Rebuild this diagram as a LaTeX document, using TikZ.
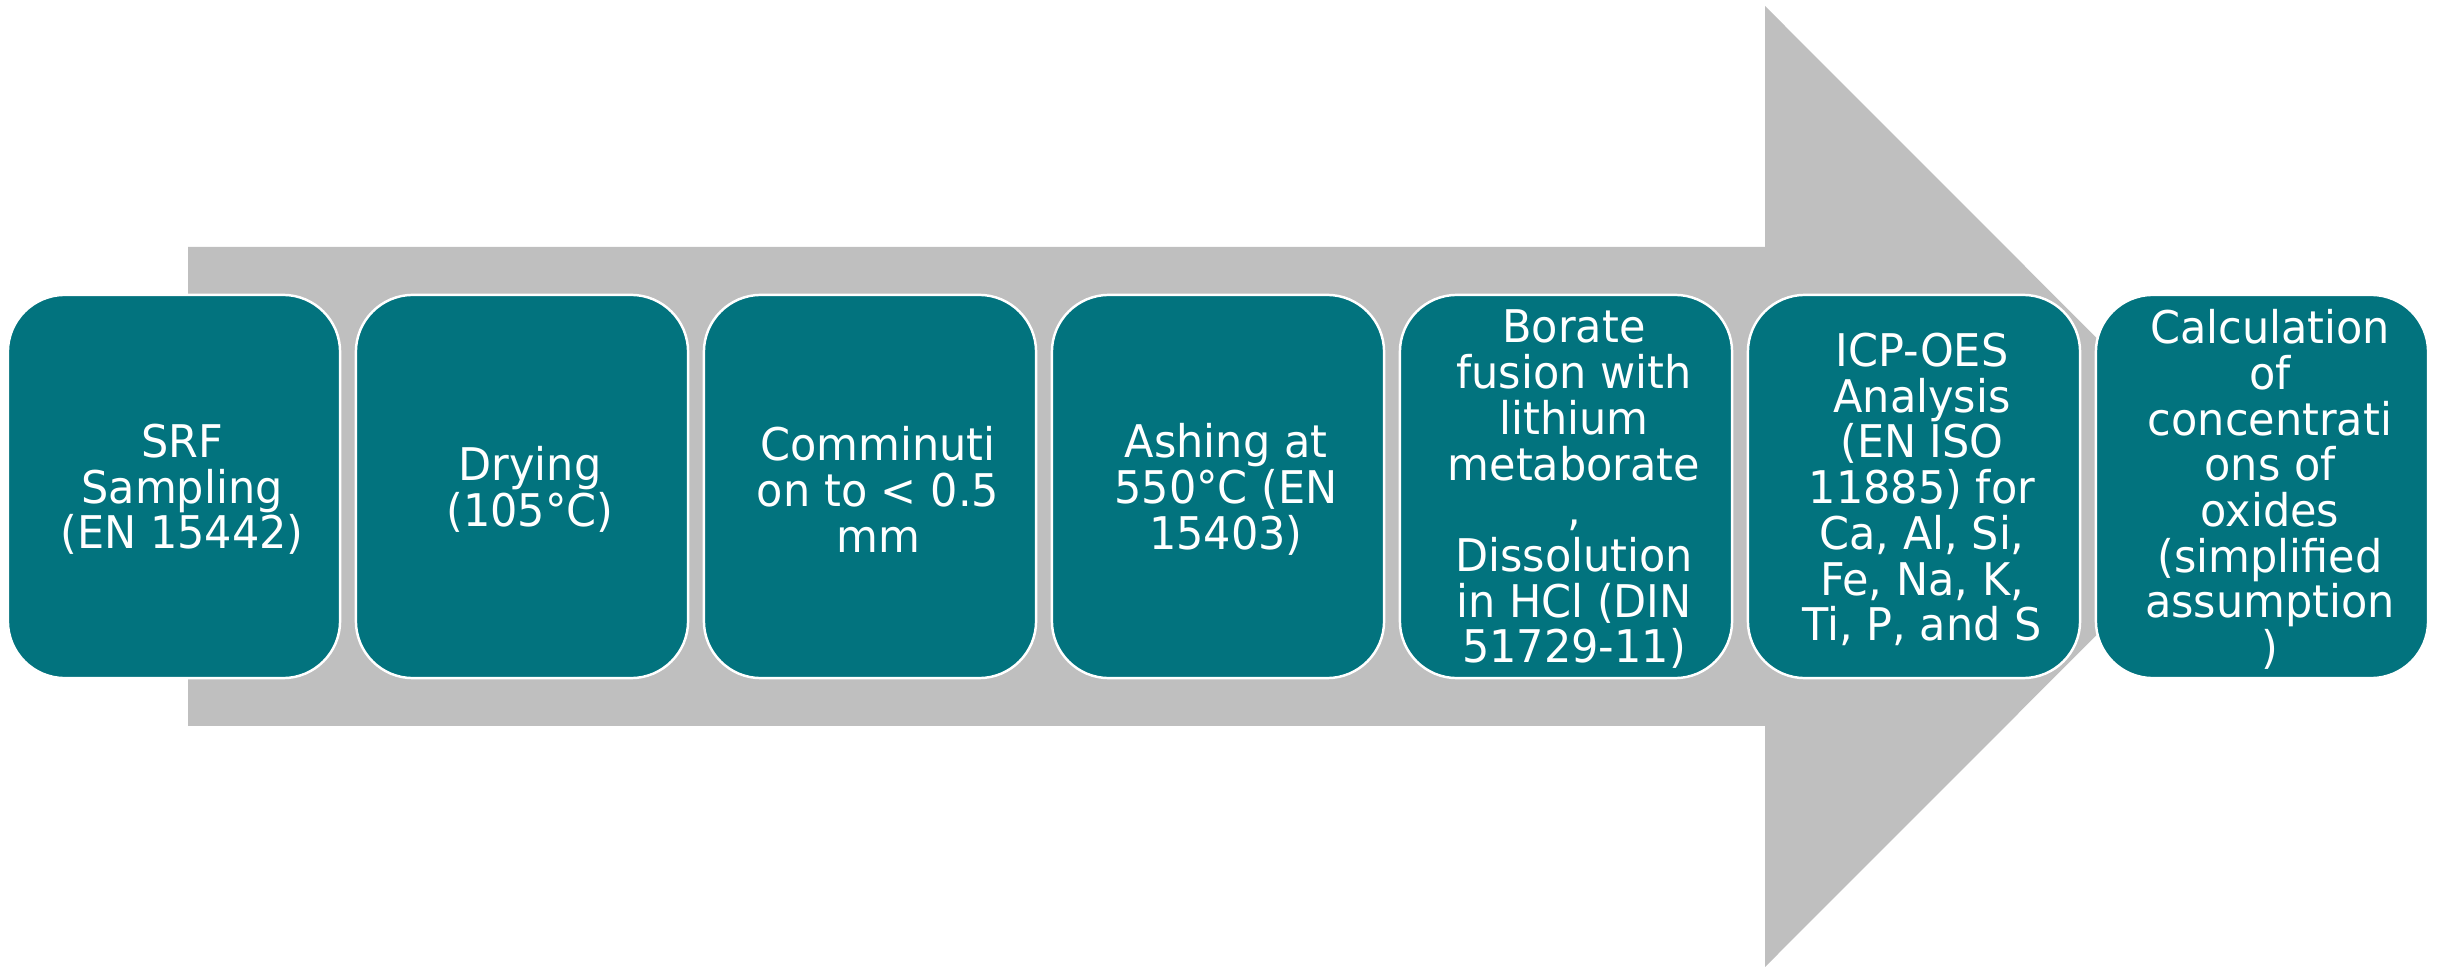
\documentclass[tikz,border=0pt]{standalone}
\usepackage{fontspec}
\setmainfont{DejaVu Sans}[FakeStretch=0.955]
\definecolor{stepteal}{HTML}{02737E}
\definecolor{arrowgray}{HTML}{BFBFBF}
\tikzset{
  stepbox/.style={draw=white, line width=0.7pt, fill=stepteal,
    rounded corners=0.57cm, minimum width=3.32cm, minimum height=3.83cm,
    inner sep=0pt},
  steptext/.style={text=white, align=center, inner sep=0pt,
    xshift=0.08cm, yshift=-0.03cm, font=\fontsize{12.8}{13}\selectfont},
}
\begin{document}
\begin{tikzpicture}[x=0.01cm, y=-0.01cm]
  \useasboundingbox (0,0) rectangle (2438,967);
  % large background arrow
  \fill[arrowgray] (188,247) -- (1765,247) -- (1765,6) -- (2245,486.5)
    -- (1765,967) -- (1765,726) -- (188,726) -- cycle;
  % process steps
  \node[stepbox, label={[steptext]center:{SRF\\Sampling\\(EN 15442)}}] (s1) at (174,486.5) {};
  \node[stepbox, label={[steptext]center:{Drying\\(105°C)}}] (s2) at (522,486.5) {};
  \node[stepbox, label={[steptext]center:{Comminuti\\on to < 0.5\\mm}}] (s3) at (870,486.5) {};
  \node[stepbox, label={[steptext]center:{Ashing at\\550°C (EN\\15403)}}] (s4) at (1218,486.5) {};
  \node[stepbox, label={[steptext]center:{Borate\\fusion with\\lithium\\metaborate\\,\\Dissolution\\in HCl (DIN\\51729-11)}}] (s5) at (1566,486.5) {};
  \node[stepbox, label={[steptext]center:{ICP-OES\\Analysis\\(EN ISO\\11885) for\\Ca, Al, Si,\\Fe, Na, K,\\Ti, P, and S}}] (s6) at (1914,486.5) {};
  \node[stepbox, label={[steptext]center:{Calculation\\of\\concentrati\\ons of\\oxides\\(simplified\\assumption\\)}}] (s7) at (2262,486.5) {};
\end{tikzpicture}
\end{document}
